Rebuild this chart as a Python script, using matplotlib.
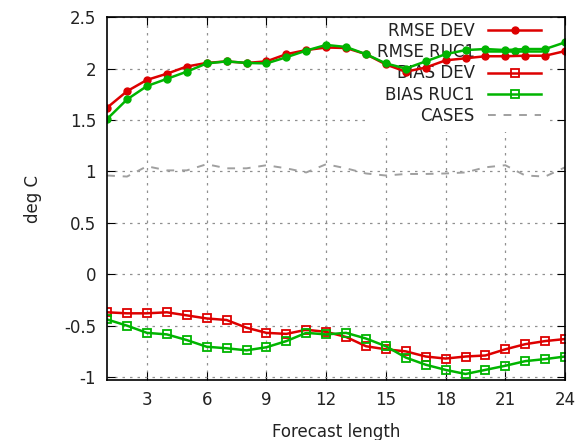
from matplotlib import pyplot as plt
import numpy as np

hours = list(range(1, 25))

rmse_dev = [1.62, 1.78, 1.89, 1.95, 2.02, 2.055, 2.07, 2.055, 2.07, 2.14, 2.18, 2.205,
            2.20, 2.14, 2.04, 1.97, 2.01, 2.08, 2.10, 2.12, 2.12, 2.125, 2.125, 2.17]
rmse_ruc1 = [1.51, 1.70, 1.83, 1.90, 1.97, 2.05, 2.07, 2.055, 2.05, 2.11, 2.175, 2.23,
             2.21, 2.14, 2.05, 2.00, 2.07, 2.14, 2.18, 2.19, 2.18, 2.19, 2.19, 2.255]
bias_dev = [-0.37, -0.38, -0.38, -0.37, -0.40, -0.43, -0.445, -0.52, -0.57, -0.58, -0.54, -0.56,
            -0.61, -0.70, -0.73, -0.75, -0.80, -0.82, -0.80, -0.79, -0.73, -0.68, -0.65, -0.63]
bias_ruc1 = [-0.44, -0.50, -0.57, -0.585, -0.64, -0.705, -0.72, -0.74, -0.71, -0.65, -0.57, -0.585,
             -0.57, -0.625, -0.70, -0.81, -0.88, -0.93, -0.97, -0.93, -0.89, -0.845, -0.825, -0.80]
cases = [0.96, 0.95, 1.05, 1.01, 1.01, 1.07, 1.03, 1.03, 1.06, 1.03, 0.99, 1.07,
         1.03, 0.98, 0.96, 0.975, 0.975, 0.98, 0.99, 1.04, 1.06, 0.96, 0.95, 1.04]

red = '#dd0000'
green = '#00b400'

fig = plt.figure(figsize=(5.76, 4.4), dpi=100)
ax = fig.add_axes([0.186, 0.136, 0.795, 0.825])

ax.plot(hours, rmse_dev, color=red, lw=1.8, marker='o', ms=5, label='RMSE DEV')
ax.plot(hours, rmse_ruc1, color=green, lw=1.8, marker='o', ms=5, label='RMSE RUC1')
ax.plot(hours, bias_dev, color=red, lw=1.8, marker='s', ms=6, mfc='none', mew=1.3, label='BIAS DEV')
ax.plot(hours, bias_ruc1, color=green, lw=1.8, marker='s', ms=6, mfc='none', mew=1.3, label='BIAS RUC1')
ax.plot(hours, cases, color='#a0a0a0', lw=1.4, ls=(0, (4, 4)), label='CASES')

ax.set_xlim(1, 24)
ax.set_ylim(-1.03, 2.5)
ax.set_xticks(range(3, 25, 3))
ax.set_yticks(np.arange(-1, 2.51, 0.5))
ax.set_yticklabels(['-1', '-0.5', '0', '0.5', '1', '1.5', '2', '2.5'])
ax.tick_params(direction='in', labelsize=12, length=6, top=True, right=True, pad=8,
               labelcolor='#222222')
ax.set_axisbelow(True)
ax.grid(True, color='#909090', ls=(0, (2, 4)), lw=0.9)
for s in ax.spines.values():
    s.set_linewidth(1.2)

ax.set_xlabel('Forecast length', fontsize=12, labelpad=10, color='#222222')
ax.set_ylabel('deg C', fontsize=12, labelpad=16, color='#222222')

leg = ax.legend(loc='upper right', bbox_to_anchor=(0.97, 1.015), markerfirst=False,
                fontsize=12, frameon=True, framealpha=1, edgecolor='none',
                handlelength=3.2, handletextpad=0.8, labelspacing=0.2,
                borderaxespad=0.2, fancybox=False)
for t in leg.get_texts():
    t.set_ha('right')
    t.set_color('#222222')
leg.set_zorder(1.5)

plt.savefig('out.png')
plt.close()
